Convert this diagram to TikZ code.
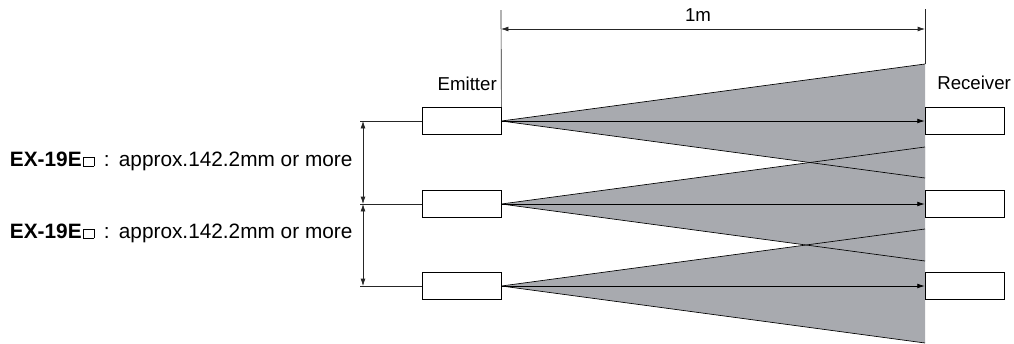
\documentclass[tikz,border=0pt]{standalone}
\usepackage{fontspec}
\setmainfont{Liberation Sans}
\usetikzlibrary{arrows.meta,backgrounds}
\definecolor{beamgray}{RGB}{168,170,175}
\newcommand{\sqmark}{{\hspace{1.2pt}\fboxsep=0pt\fboxrule=0.45pt\fbox{\rule{0pt}{6.5pt}\hspace{7.5pt}}}}

\tikzset{
  unit/.style={draw, fill=white, minimum width=59.25pt, minimum height=20.25pt, inner sep=0pt, line width=0.6pt},
  dim/.style={line width=0.5pt, draw=black!85},
  tip/.style={-{Latex[length=5.5pt,width=3.6pt]}},
  tips/.style={{Latex[length=5.5pt,width=3.6pt]}-{Latex[length=5.5pt,width=3.6pt]}},
  tag/.style={font=\fontsize{14}{16}\selectfont, inner sep=0pt},
  gaptag/.style={tag, anchor=base east, font=\fontsize{15.6}{18}\selectfont}
}

\begin{document}
\begin{tikzpicture}[x=0.75pt, y=-0.75pt]
\useasboundingbox (0,0) rectangle (1014,343);

    % emitters and receivers
    \foreach \n/\y in {1/121, 2/204, 3/286} {
        \node[unit] (em\n) at (461.5,\y) {};
        \node[unit] (rx\n) at (964.5,\y) {};
    }
    \node[tag, anchor=base east] (emlabel) at (497,90) {Emitter};
    \node[tag, anchor=base west] (rxlabel) at (937,89) {Receiver};

    % beams
\begin{scope}[on background layer]
    \foreach \n/\y in {1/121, 2/204, 3/286}
        \fill[beamgray] (em\n.east) -- (925,\y-57) -- (925,\y+57) -- cycle;
    \foreach \n/\y in {1/121, 2/204, 3/286}
        \draw[line width=0.5pt] (925,\y-57) -- (em\n.east) -- (925,\y+57);
\end{scope}
    \foreach \n in {1,2,3}
        \draw[tip, line width=0.5pt] (em\n.east) -- (rx\n.west);

    % 1m
    \coordinate (top1) at (501,10);
    \coordinate (top2) at (925,9);
    \coordinate (rtop) at (925,64);
    \draw[dim] (em1.north east) -- (top1);
    \draw[dim] (rtop) -- (top2);
    \draw[dim, tips] (501,29) -- (925,29);
    \node[tag, anchor=base] (dist) at (698,21) {1m};

    % spacing
    \foreach \n/\y in {1/121, 2/204, 3/286} {
        \coordinate (ext\n) at (360,\y);
        \draw[dim] (em\n.west) -- (ext\n);
    }
    \draw[dim, tips] (363,121) -- (363,204);
    \draw[dim, tips] (363,204) -- (363,286);
    \node[gaptag] (gap1) at (352.7,166) {\textbf{EX-19E}\sqmark\hspace{7pt}:\hspace{7pt}approx.142.2mm or more};
    \node[gaptag] (gap2) at (352.7,238) {\textbf{EX-19E}\sqmark\hspace{7pt}:\hspace{7pt}approx.142.2mm or more};

\end{tikzpicture}
\end{document}
